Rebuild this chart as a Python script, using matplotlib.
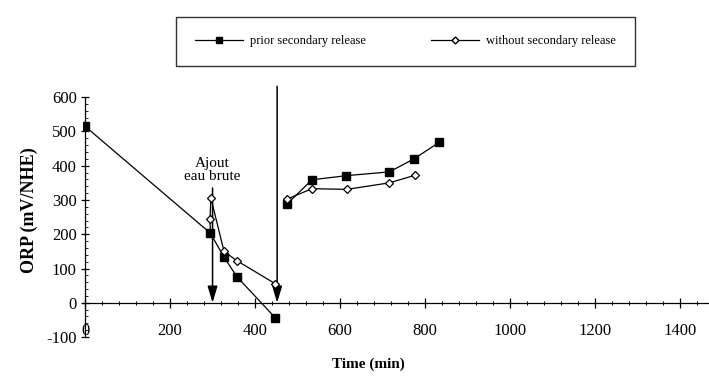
import matplotlib.pyplot as plt
from matplotlib.ticker import MultipleLocator, FixedLocator

plt.rcParams['font.family'] = ['Liberation Serif', 'DejaVu Serif']
plt.rcParams['axes.unicode_minus'] = False

# prior secondary release (filled squares)
t_prior = [0, 295, 327, 358, 447, 476, 534, 615, 716, 774, 833]
orp_prior = [515, 203, 133, 75, -43, 289, 359, 371, 382, 420, 468]

# without secondary release (open markers)
t_without = [294, 296, 327, 357, 447, 476, 534, 616, 716, 776]
orp_without = [245, 306, 150, 123, 56, 303, 333, 331, 350, 372]

# vertical arrows (time, top of arrow)
arrow_t = [300, 452]
arrow_top = [335, 632]

xticks = [0, 200, 400, 600, 800, 1000, 1200, 1400]
yticks = [-100, 0, 100, 200, 300, 400, 500, 600]

fig = plt.figure(figsize=(7.09, 3.83), dpi=100)
ax = fig.add_axes([0.117, 0.12, 0.884, 0.662])

# series are broken at the secondary release (index 5)
brk = 5
ax.plot(t_prior[:brk], orp_prior[:brk], color='black', lw=0.9, marker='s', ms=5.5,
        mfc='black', mec='black', zorder=3)
ax.plot(t_prior[brk:], orp_prior[brk:], color='black', lw=0.9, marker='s', ms=5.5,
        mfc='black', mec='black', zorder=3)
ax.plot([t_prior[1]] + t_without[:brk], [orp_prior[1]] + orp_without[:brk],
        color='black', lw=0.9, zorder=2)
ax.plot(t_without[brk:], orp_without[brk:], color='black', lw=0.9, zorder=2)
ax.plot(t_without, orp_without, color='black', lw=0, marker='D', ms=4.5,
        mfc='white', mec='black', mew=0.9, zorder=4)
# legend proxies
ax.plot([], [], color='black', lw=0.9, marker='s', ms=4, mfc='black',
        mec='black', label='prior secondary release')
ax.plot([], [], color='black', lw=0.9, marker='D', ms=3.5, mfc='white',
        mec='black', label='without secondary release')

for t, top in zip(arrow_t, arrow_top):
    ax.annotate('', xy=(t, 0), xytext=(t, top), annotation_clip=False,
                arrowprops=dict(arrowstyle='-|>,head_length=1.0,head_width=0.3',
                                color='black', lw=1.1, shrinkA=0, shrinkB=0))

ax.text(300, 387, 'Ajout\neau brute', ha='center', va='center',
        fontsize=11, linespacing=0.95)

ax.set_xlim(-5, 1470)
ax.set_ylim(-100, 640)
ax.set_xticks(xticks)
ax.set_yticks(yticks)
ax.xaxis.set_minor_locator(MultipleLocator(40))
ax.yaxis.set_minor_locator(FixedLocator(list(range(-100, 601, 20))))

for s in ['top', 'right']:
    ax.spines[s].set_visible(False)
ax.spines['bottom'].set_position(('data', 0))
ax.spines['left'].set_position(('data', 0))
ax.spines['left'].set_bounds(-100, 600)
ax.spines['bottom'].set_linewidth(0.9)
ax.spines['left'].set_linewidth(0.9)

ax.tick_params(axis='x', which='major', direction='inout', length=7,
               width=0.9, pad=11, labelsize=12)
ax.tick_params(axis='x', which='minor', direction='inout', length=3, width=0.7)
ax.tick_params(axis='y', which='major', direction='inout', length=6,
               width=0.9, pad=3, labelsize=12)
ax.tick_params(axis='y', which='minor', direction='in', length=2.5, width=0.6)

ax.set_ylabel('ORP (mV/NHE)', fontsize=13, fontweight='bold', labelpad=6)
fig.text(0.52, 0.05, 'Time (min)', ha='center', va='center',
         fontsize=11, fontweight='bold')

leg = fig.legend(loc='center', bbox_to_anchor=(0.572, 0.892), ncol=2,
                 fontsize=9, frameon=True, fancybox=False, edgecolor='black',
                 handlelength=3.8, columnspacing=5.2, borderpad=1.5,
                 handletextpad=0.6)
leg.get_frame().set_linewidth(1.0)

fig.savefig('out.png', dpi=100)
